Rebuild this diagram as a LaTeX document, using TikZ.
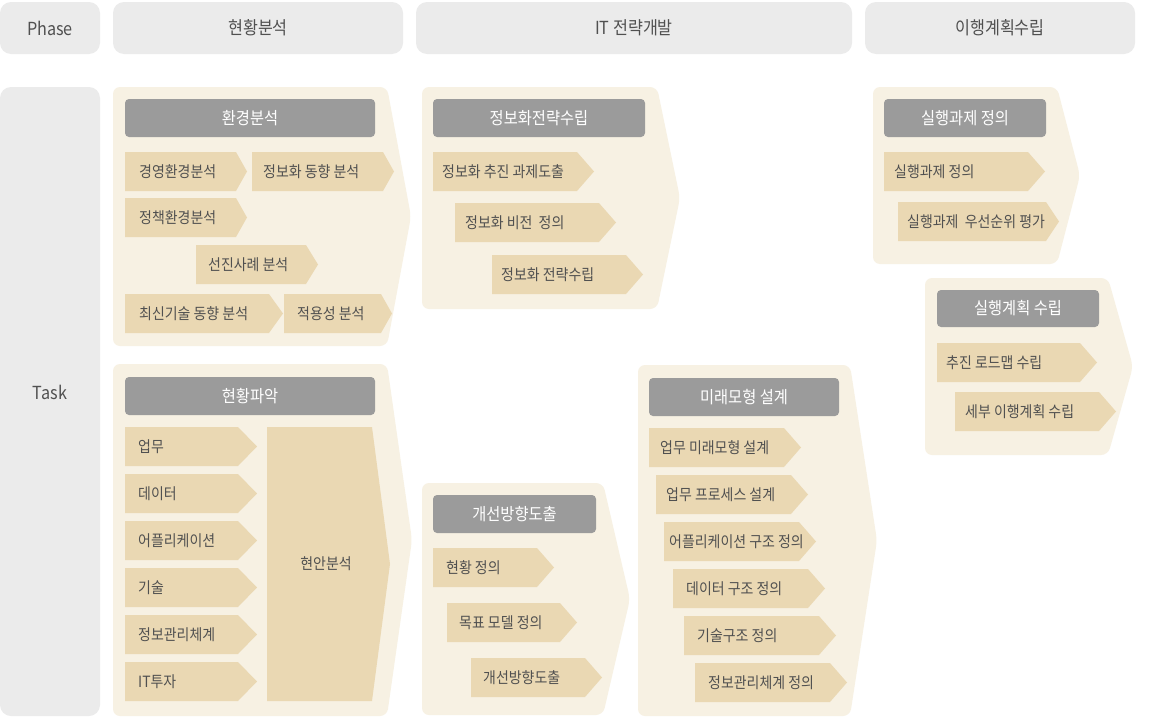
\documentclass[tikz,border=0pt]{standalone}
\usepackage{fontspec}
\setmainfont[FakeStretch=0.9]{Noto Sans CJK KR}
\definecolor{contcol}{HTML}{F7F1E3}
\definecolor{chevcol}{HTML}{EAD8B3}
\definecolor{hdrcol}{HTML}{9B9B9B}
\definecolor{phasecol}{HTML}{EBEBEB}
\definecolor{txtcol}{HTML}{505050}
\tikzset{
  chevtext/.style={inner sep=0pt, text=txtcol, font=\fontsize{15.5}{18}\selectfont},
  hdrtext/.style={inner sep=0pt, text=white, font=\fontsize{17}{20}\selectfont},
  phasetext/.style={inner sep=0pt, text=txtcol, font=\fontsize{18}{21}\selectfont},
  contshape/.style={fill=contcol, rounded corners=7pt},
  chevshape/.style={fill=chevcol},
  hdrshape/.style={fill=hdrcol, rounded corners=4pt},
  phaseshape/.style={fill=phasecol, rounded corners=11pt}
}
% name, left, top, bottom, tip, depth, text x, text
\newcommand\chevr[8]{%
  \fill[chevshape] (#2,#3) -- ({#5-#6},#3) -- (#5,{(#3+#4)/2}) -- ({#5-#6},#4) -- (#2,#4) -- cycle;
  \node[chevtext, anchor=west] (#1) at (#7,{(#3+#4)/2}) {#8};}
% left, top, right, tip, bottom
\newcommand\contr[5]{%
  \fill[contshape] (#1,#2) -- (#3,#2) -- (#4,{(#2+#5)/2}) -- (#3,#5) -- (#1,#5) -- cycle;}
% name, left, top, right, bottom, text
\newcommand\hdrbox[6]{%
  \fill[hdrshape] (#2,#3) rectangle (#4,#5);
  \node[hdrtext] (#1) at ({(#2+#4)/2},{(#3+#5)/2}) {#6};}
% name, left, top, right, bottom, text
\newcommand\phasebox[6]{%
  \fill[phaseshape] (#2,#3) rectangle (#4,#5);
  \node[phasetext] (#1) at ({(#2+#4)/2},{(#3+#5)/2}) {#6};}
\begin{document}
\begin{tikzpicture}[x=1pt,y=-1pt]
\useasboundingbox (0,0) rectangle (1170,720);
\fill[white] (0,0) rectangle (1170,720);
% phase row
\phasebox{ph}{0}{2}{100}{54}{Phase}
\phasebox{p1}{113}{2}{403}{54}{현황분석}
\phasebox{p2}{416}{2}{852}{54}{IT 전략개발}
\phasebox{p3}{865}{2}{1135}{54}{이행계획수립}
\fill[phaseshape] (0,87) rectangle (100,716);
\node[phasetext] (task) at (50,392) {Task};
% container A
\contr{113}{87}{387}{411}{346}
\hdrbox{hA}{125}{99}{375}{137}{환경분석}
\chevr{a1}{125}{152}{191}{247}{11}{139}{경영환경분석}
\chevr{a2}{252}{152}{191}{394}{11}{263}{정보화 동향 분석}
\chevr{a3}{125}{198}{237}{247}{11}{139}{정책환경분석}
\chevr{a4}{196}{245}{284}{318}{12}{208}{선진사례 분석}
\chevr{a5}{125}{294}{333}{283}{14}{139}{최신기술 동향 분석}
\chevr{a6}{284}{294}{333}{392}{11}{297}{적용성 분석}
% container B
\contr{113}{364}{387}{412}{716}
\hdrbox{hB}{125}{377}{375}{415}{현황파악}
\chevr{b1}{125}{427}{466}{257}{19}{138}{업무}
\chevr{b2}{125}{474}{513}{257}{19}{138}{데이터}
\chevr{b3}{125}{521}{560}{257}{19}{138}{어플리케이션}
\chevr{b4}{125}{568}{607}{257}{19}{138}{기술}
\chevr{b5}{125}{615}{654}{257}{19}{138}{정보관리체계}
\chevr{b6}{125}{662}{701}{257}{19}{138}{IT투자}
\fill[chevshape] (267,427) -- (372,427) -- (390,564) -- (372,701) -- (267,701) -- cycle;
\node[chevtext] (b7) at (326,564) {현안분석};
% container C
\contr{422}{87}{657}{680}{309}
\hdrbox{hC}{433}{99}{645}{137}{정보화전략수립}
\chevr{c1}{433}{152}{191}{594}{17}{442}{정보화 추진 과제도출}
\chevr{c2}{455}{203}{242}{616}{17}{465}{정보화 비전 \ 정의}
\chevr{c3}{492}{255}{294}{643}{17}{501}{정보화 전략수립}
% container D
\contr{422}{483}{603}{630}{715}
\hdrbox{hD}{433}{495}{596}{533}{개선방향도출}
\chevr{d1}{433}{548}{587}{554}{17}{446}{현황 정의}
\chevr{d2}{447}{603}{642}{577}{17}{459}{목표 모델 정의}
\chevr{d3}{471}{658}{697}{602}{17}{483}{개선방향도출}
% container E
\contr{638}{365}{850}{877}{716}
\hdrbox{hE}{649}{378}{839}{416}{미래모형 설계}
\chevr{e1}{649}{428}{467}{801}{17}{660}{업무 미래모형 설계}
\chevr{e2}{656}{475}{514}{808}{17}{666}{업무 프로세스 설계}
\chevr{e3}{664}{522}{561}{816}{17}{669}{어플리케이션 구조 정의}
\chevr{e4}{673}{569}{608}{825}{17}{686}{데이터 구조 정의}
\chevr{e5}{684}{616}{655}{836}{17}{697}{기술구조 정의}
\chevr{e6}{695}{663}{702}{847}{17}{708}{정보관리체계 정의}
% container F
\contr{873}{87}{1057}{1080}{264}
\hdrbox{hF}{884}{99}{1046}{137}{실행과제 정의}
\chevr{f1}{884}{152}{191}{1045}{17}{894}{실행과제 정의}
\chevr{f2}{898}{202}{241}{1059}{13}{907}{실행과제 \ 우선순위 평가}
% container G
\contr{925}{278}{1108}{1133}{455}
\hdrbox{hG}{937}{290}{1099}{327}{실행계획 수립}
\chevr{g1}{937}{343}{382}{1097}{17}{946}{추진 로드맵 수립}
\chevr{g2}{955}{392}{431}{1116}{17}{965}{세부 이행계획 수립}
\end{tikzpicture}
\end{document}
